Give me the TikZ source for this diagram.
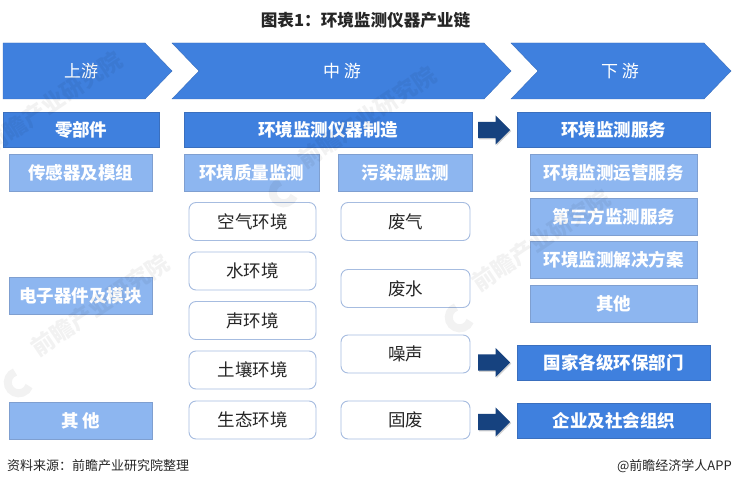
\documentclass[tikz,border=0pt]{standalone}
\usepackage{fontspec}
\setmainfont{Noto Sans CJK SC}
\usetikzlibrary{shapes.arrows,shadows}
\definecolor{chev}{HTML}{3F80DE}
\definecolor{chevb}{HTML}{3A6FBE}
\definecolor{lightb}{HTML}{8DB6F0}
\definecolor{lightl}{HTML}{7F9FD0}
\definecolor{roundl}{HTML}{A6BCE0}
\definecolor{arrowc}{HTML}{16427F}
\tikzset{
  x=1pt,y=-1pt,
  chevron/.style={fill=chev,draw=chevb,line width=.4pt},
  chevlabel/.style={text=white,font=\fontsize{17}{20}\selectfont},
  darkbox/.style={fill=chev,draw=chevb,line width=.5pt,text=white,font=\fontsize{17.5}{20}\selectfont\bfseries,minimum height=35pt,inner sep=0pt},
  lightbox/.style={fill=lightb,draw=lightl,line width=.7pt,text=white,font=\fontsize{17.5}{20}\selectfont\bfseries,minimum height=37pt,inner sep=0pt},
  roundbox/.style={fill=white,draw=roundl,line width=.9pt,rounded corners=7pt,text=black!85,font=\fontsize{17.5}{20}\selectfont,minimum height=38pt,inner sep=0pt},
  flowarrow/.style={single arrow,anchor=tip,fill=arrowc,minimum width=29pt,minimum height=32pt,single arrow head extend=6.5pt,single arrow tip angle=90,inner xsep=0pt,inner ysep=8pt,drop shadow={shadow xshift=1pt,shadow yshift=-1.2pt,opacity=.35}},
  wmark/.style={text=black,opacity=.05,rotate=34,font=\fontsize{23}{25}\selectfont\bfseries,inner sep=0pt},
  wlogo/.style={draw=black,draw opacity=.05,line width=8pt},
}
\begin{document}
\begin{tikzpicture}
\useasboundingbox (0,0) rectangle (732,487);
\fill[white] (0,0) rectangle (732,487);
\node[font=\fontsize{16.6}{19}\selectfont\bfseries,text=black!85,inner sep=0pt] (title) at (365.5,20) {图表1：环境监测仪器产业链};
% chevrons
\draw[chevron] (3,43) -- (145,43) -- (172,71) -- (145,99) -- (3,99) -- cycle;
\draw[chevron] (172,43) -- (484,43) -- (511,71) -- (484,99) -- (172,99) -- (199,71) -- cycle;
\draw[chevron] (511,43) -- (704,43) -- (731,71) -- (704,99) -- (511,99) -- (538,71) -- cycle;
\node[chevlabel] (up) at (81,71) {上游};
\node[chevlabel] (mid) at (342,71) {中 游};
\node[chevlabel] (down) at (620,71) {下 游};
% dark boxes
\node[darkbox,minimum width=156.5pt] (parts) at (81.25,129.5) {零部件};
\node[darkbox,minimum width=288.5pt] (make) at (328.25,129.5) {环境监测仪器制造};
\node[darkbox,minimum width=193.5pt] (serv) at (613.75,129.5) {环境监测服务};
\node[darkbox,minimum width=193.5pt] (gov) at (613.75,362.5) {国家各级环保部门};
\node[darkbox,minimum width=193.5pt] (ent) at (613.75,420.5) {企业及社会组织};
% light boxes
\node[lightbox,minimum width=143.5pt] (sensor) at (80.75,172.5) {传感器及模组};
\node[lightbox,minimum width=143.5pt] (elec) at (80.75,296) {电子器件及模块};
\node[lightbox,minimum width=143.5pt] (other) at (80.75,420.5) {其 他};
\node[lightbox,minimum width=135.5pt] (quality) at (251.75,172.5) {环境质量监测};
\node[lightbox,minimum width=134.5pt] (pollute) at (405.25,172.5) {污染源监测};
\node[lightbox,minimum width=167.5pt] (op) at (613.75,172.5) {环境监测运营服务};
\node[lightbox,minimum width=167.5pt] (third) at (613.75,216.5) {第三方监测服务};
\node[lightbox,minimum width=167.5pt] (plan) at (613.75,260) {环境监测解决方案};
\node[lightbox,minimum width=167.5pt] (other2) at (613.75,304) {其他};
% rounded boxes
\node[roundbox,minimum width=127pt] (air) at (252.5,221.5) {空气环境};
\node[roundbox,minimum width=127pt] (water) at (252.5,271) {水环境};
\node[roundbox,minimum width=127pt] (sound) at (252.5,320.5) {声环境};
\node[roundbox,minimum width=127pt] (soil) at (252.5,370) {土壤环境};
\node[roundbox,minimum width=127pt] (eco) at (252.5,420) {生态环境};
\node[roundbox,minimum width=129pt] (gas) at (405.5,221.5) {废气};
\node[roundbox,minimum width=129pt] (waste) at (405.5,288.5) {废水};
\node[roundbox,minimum width=129pt] (noise) at (405.5,354) {噪声};
\node[roundbox,minimum width=129pt] (solid) at (405.5,420) {固废};
% block arrows
\node[flowarrow] (a1) at (510.5,130) {};
\node[flowarrow] (a2) at (510.5,362.5) {};
\node[flowarrow] (a3) at (510.5,422) {};
% footer
\node[anchor=west,font=\fontsize{13}{15}\selectfont,text=black!85,inner sep=0pt] (src) at (7,466) {资料来源：前瞻产业研究院整理};
\node[anchor=east,font=\fontsize{13}{15}\selectfont,text=black!85,inner sep=0pt] (app) at (732,466) {@前瞻经济学人APP};
% watermarks
\node[wmark] (w1) at (53,102) {前瞻产业研究院};
\node[wmark] (w2) at (367,117) {前瞻产业研究院};
\node[wmark] (w3) at (541,240) {前瞻产业研究院};
\node[wmark] (w4) at (100,305) {前瞻产业研究院};
\draw[wlogo] (280,182) arc (250:20:11);
\draw[wlogo] (456,307) arc (250:20:11);
\draw[wlogo] (15,372) arc (250:20:11);
\end{tikzpicture}
\end{document}
